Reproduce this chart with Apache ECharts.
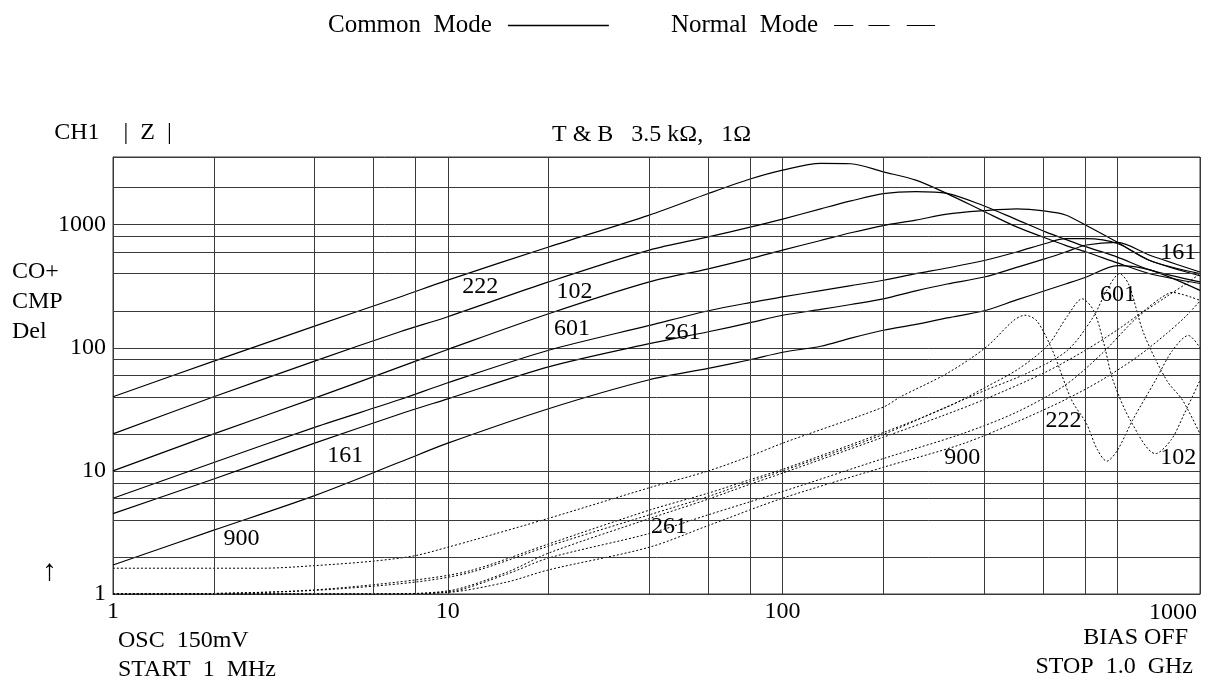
<!DOCTYPE html>
<html>
<head>
<meta charset="utf-8">
<script src="https://cdn.jsdelivr.net/npm/echarts@6/dist/echarts.min.js"></script>
<style>
  html, body { margin: 0; padding: 0; background: #fff; }
  #chart { width: 1209px; height: 684px; }
</style>
</head>
<body>
<div id="chart"></div>
<script>
// impedance |Z| vs frequency (MHz), log-log
const FONT = '"Liberation Serif", "Times New Roman", serif'

// common mode curves (solid), one shared frequency list
const freqCommon = [1, 2, 4, 7.2, 10, 20, 40, 60, 80, 100, 130, 160, 200, 250, 310, 400, 500, 610, 700, 808, 1000, 1250, 1765]
const common222 = [40, 78, 150, 259, 355, 659, 1197, 1792, 2351, 2779, 3150, 3130, 2687, 2303, 1790, 1280, 960, 780, 680, 600, 490, 400, 333]
const common102 = [20, 40, 78, 135, 179, 343, 622, 796, 955, 1110, 1346, 1560, 1790, 1860, 1800, 1420, 1100, 875, 760, 660, 546, 430, 343]
const common601 = [10, 20, 39, 70, 97, 189, 343, 438, 530, 622, 745, 860, 984, 1090, 1220, 1300, 1346, 1290, 1200, 984, 720, 512, 400]
const common261 = [6, 11.7, 22.6, 38, 52, 95.5, 152, 200, 233, 259, 292, 320, 354, 400, 445, 512, 600, 704, 770, 770, 704, 512, 385]
const common161 = [4.5, 8.6, 16.8, 29, 38.5, 70, 108, 135, 160, 184, 205, 225, 250, 290, 330, 376, 450, 530, 600, 684, 720, 565, 413]
const common900 = [1.72, 3.3, 6.3, 11.8, 16.8, 32, 55, 68, 80, 92, 103, 120, 139, 155, 175, 200, 245, 292, 330, 376, 466, 430, 293]

// normal mode curves (dotted)
const normal222F = [1, 2.8, 4, 6, 8, 10, 11.7, 20, 40, 60, 80, 100, 200, 225, 310, 405, 490, 530, 575, 640, 730, 808, 870, 930, 1000, 1110, 1300, 1460, 1630, 1765]
const normal222Z = [1.62, 1.62, 1.7, 1.85, 2.05, 2.4, 2.7, 4.12, 7.3, 10, 13.2, 16.8, 33, 40, 62, 101, 167, 184, 165, 95, 37.6, 24.3, 15, 12, 14.7, 25.8, 54.5, 95, 126, 100]
const normal102F = [1, 2, 4, 8, 11.7, 20, 40, 60, 80, 100, 200, 310, 405, 509, 620, 708, 785, 850, 910, 970, 1100, 1300, 1450, 1585, 1765]
const normal102Z = [1, 1.01, 1.08, 1.3, 1.55, 2.55, 4.8, 6.6, 8.5, 10.3, 20.5, 33, 48, 68, 105, 180, 250, 200, 110, 54.5, 25, 13.8, 18, 29.2, 54.5]
const normal601F = [1, 2, 4, 8, 11.7, 20, 40, 60, 80, 100, 200, 300, 402, 536, 708, 847, 930, 1015, 1080, 1200, 1403, 1565, 1765]
const normal601Z = [1, 1.01, 1.07, 1.25, 1.5, 2.45, 4.4, 6.2, 8.2, 10, 19.8, 32, 45, 62, 95, 178, 294, 400, 330, 130, 54.5, 37.6, 20]
const normal261F = [1, 6, 10, 15, 20, 40, 60, 80, 100, 200, 300, 400, 600, 800, 1000, 1200, 1350, 1460, 1560, 1660, 1765]
const normal261Z = [1, 1, 1.06, 1.5, 2.15, 4.1, 5.9, 7.8, 9.6, 18.8, 28, 38, 62, 95, 140, 200, 255, 282, 272, 258, 243]
const normal161F = [1, 6, 10, 15, 20, 40, 60, 100, 200, 343, 500, 700, 900, 1150, 1400, 1600, 1765]
const normal161Z = [1, 1, 1.04, 1.45, 1.96, 3.1, 4.4, 6.8, 12.6, 20, 30, 50, 90, 178, 260, 330, 400]
const normal900F = [1, 6, 10, 15, 20, 40, 60, 100, 200, 343, 500, 700, 900, 1150, 1400, 1600, 1765]
const normal900Z = [1, 1, 1.03, 1.25, 1.57, 2.4, 3.6, 6.0, 10.7, 16.5, 25, 38, 55, 85, 130, 180, 240]

// part number labels placed at [freq, |Z|]
const curveLabels = [
  [12.5, 316, '222'], [23.9, 287, '102'], [23.5, 144, '601'], [50.2, 133, '261'],
  [4.94, 13.2, '161'], [2.42, 2.8, '900'], [1004, 272, '601'], [1520, 596, '161'],
  [690, 25.4, '222'], [1520, 12.7, '102'], [344, 12.9, '900'], [45.8, 3.5, '261']
]

// extra grid lines between decades
const xGrid = [2, 4, 6, 8, 20, 40, 60, 80, 200, 400, 600, 800]
const yGrid = [2, 4, 6, 8, 20, 40, 60, 80, 200, 400, 600, 800, 2000]
const xTickLabels = [1, 10, 100]
const yTickLabels = [1, 10, 100, 1000]

const commonCurves = [common222, common102, common601, common261, common161, common900]
const normalCurves = [
  [normal222F, normal222Z], [normal102F, normal102Z], [normal601F, normal601Z],
  [normal261F, normal261Z], [normal161F, normal161Z], [normal900F, normal900Z]
]

const pick = list => v => {
  const r = Math.round(v)
  return list.includes(r) && Math.abs(v - r) < 1e-6 ? String(r) : ''
}

const textStyle = { fontFamily: FONT, fontSize: 24, color: '#000' }
const gridColor = '#3a3a3a'

const series = []
commonCurves.forEach(vals => {
  series.push({
    name: 'Common Mode',
    type: 'line',
    data: freqCommon.map((f, i) => [f, vals[i]]),
    symbol: 'none',
    smooth: 0.3,
    silent: true,
    itemStyle: { color: '#000' },
    lineStyle: { color: '#000', width: 1.2 },
    z: 3
  })
})
normalCurves.forEach(([fs, zs]) => {
  series.push({
    name: 'Normal Mode',
    type: 'line',
    data: fs.map((f, i) => [f, zs[i]]),
    symbol: 'none',
    smooth: 0.3,
    silent: true,
    itemStyle: { color: '#000' },
    lineStyle: { color: '#000', width: 1, type: [2, 2] },
    z: 3
  })
})
// grid lines through the axes
series.push({
  type: 'line',
  data: [],
  silent: true,
  markLine: {
    silent: true,
    symbol: 'none',
    label: { show: false },
    animation: false,
    lineStyle: { color: gridColor, width: 1, type: 'solid' },
    data: [...xGrid.map(v => ({ xAxis: v })), ...yGrid.map(v => ({ yAxis: v }))]
  },
  z: 1
})
// labels
series.push({
  type: 'scatter',
  data: curveLabels.map(([f, z, t]) => ({ value: [f, z], name: t })),
  symbolSize: 1,
  itemStyle: { color: 'rgba(0,0,0,0)', opacity: 1 },
  silent: true,
  label: { show: true, position: 'inside', formatter: '{b}', opacity: 1, ...textStyle },
  z: 5
})

const myChart = echarts.init(document.getElementById('chart'))
const option = {
  animation: false,
  backgroundColor: '#fff',
  title: {
    text: 'T & B   3.5 kΩ,   1Ω',
    left: 552,
    top: 123,
    padding: 0,
    textStyle: { ...textStyle, fontWeight: 'normal' }
  },
  legend: {
    left: 323,
    top: 8,
    align: 'right',
    itemWidth: 101,
    itemHeight: 1.3,
    itemGap: 62,
    selectedMode: false,
    formatter: name => name.replace(' ', '  '),
    itemStyle: { color: '#000', borderWidth: 0 },
    textStyle: { ...textStyle, fontSize: 25, padding: [0, 11, 0, 0] },
    data: [
      { name: 'Common Mode', icon: 'rect' },
      { name: 'Normal Mode', icon: 'path://M0,0H19V1H0Z M34,0H55V1H34Z M72,0H100V1H72Z' }
    ]
  },
  grid: {
    left: 113, right: 9, top: 157, bottom: 90,
    show: true, borderColor: gridColor, borderWidth: 1
  },
  xAxis: {
    type: 'log',
    logBase: 10,
    min: 1,
    max: 1765,
    axisLine: { lineStyle: { color: gridColor } },
    axisTick: { show: false },
    axisLabel: { ...textStyle, margin: 6, formatter: pick(xTickLabels) },
    splitLine: { show: true, lineStyle: { color: gridColor, width: 1 } }
  },
  yAxis: {
    type: 'log',
    logBase: 10,
    min: 1,
    max: 3550,
    name: 'CH1    |  Z  |',
    nameLocation: 'end',
    nameGap: 12,
    nameTextStyle: { ...textStyle, align: 'center' },
    axisLine: { lineStyle: { color: gridColor } },
    axisTick: { show: false },
    axisLabel: { ...textStyle, margin: 7, formatter: pick(yTickLabels) },
    splitLine: { show: true, lineStyle: { color: gridColor, width: 1 } }
  },
  graphic: [
    { type: 'text', left: 12, top: 257, style: { text: 'CO+\nCMP\nDel', font: '24px ' + FONT, lineHeight: 30, fill: '#000' } },
    { type: 'text', left: 42, top: 557, style: { text: '↑', font: '30px ' + FONT, fill: '#000' } },
    { type: 'text', right: 12, top: 601, style: { text: '1000', font: '24px ' + FONT, fill: '#000' } },
    { type: 'text', left: 118, top: 626, style: { text: 'OSC  150mV\nSTART  1  MHz', font: '24px ' + FONT, lineHeight: 29, fill: '#000' } },
    { type: 'text', right: 21, top: 626, style: { text: 'BIAS OFF', font: '24px ' + FONT, fill: '#000' } },
    { type: 'text', right: 16, top: 655, style: { text: 'STOP  1.0  GHz', font: '24px ' + FONT, fill: '#000' } }
  ],
  series
}
option && myChart.setOption(option)
</script>
</body>
</html>
